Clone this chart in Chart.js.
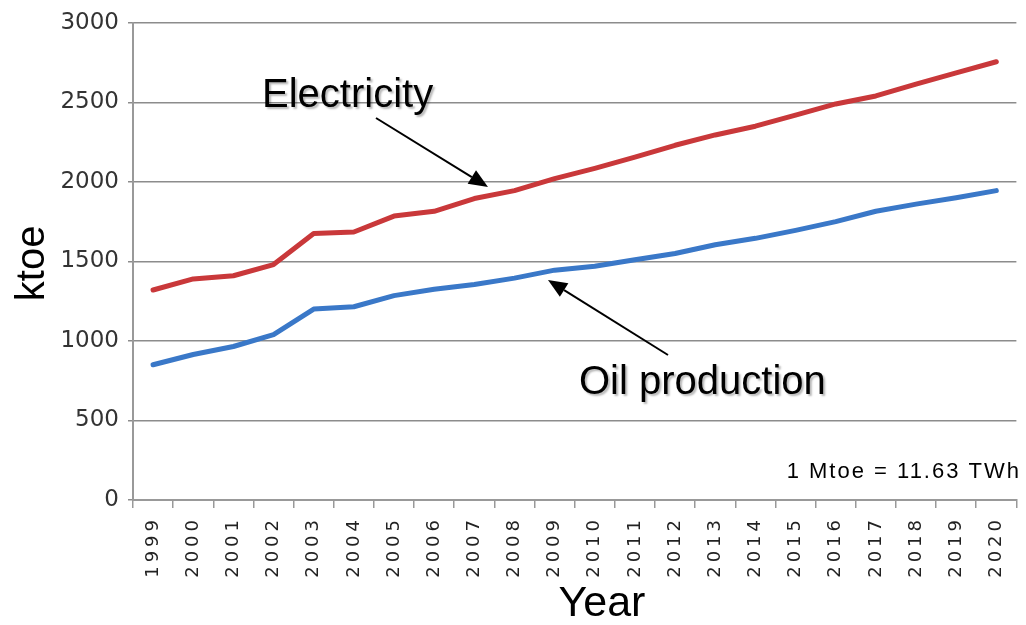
<!DOCTYPE html>
<html>
<head>
<meta charset="utf-8">
<script src="https://cdn.jsdelivr.net/npm/chart.js@4.4.1/dist/chart.umd.min.js"></script>
<style>
  html, body { margin: 0; padding: 0; background: #fff; overflow: hidden; }
  #wrap { width: 1026px; height: 625px; position: relative; }
</style>
</head>
<body>
<div id="wrap"><canvas id="c" width="1026" height="625"></canvas></div>
<script>
// Energy demand, thousand tonnes of oil equivalent
const years = ['1999','2000','2001','2002','2003','2004','2005','2006','2007','2008','2009',
               '2010','2011','2012','2013','2014','2015','2016','2017','2018','2019','2020'];
const electricity = [1320,1390,1410,1480,1675,1685,1785,1815,1895,1945,2020,
                     2085,2155,2230,2295,2350,2420,2490,2540,2615,2685,2755];
const oilProduction = [850,915,965,1040,1200,1215,1285,1325,1355,1395,1445,
                       1470,1510,1550,1605,1645,1695,1750,1815,1860,1900,1945];
const yTickValues = [0,500,1000,1500,2000,2500,3000];

const ANNOTATIONS = {
  electricity: { text: 'Electricity', x: 262, y: 107, from: [376, 118], to: [488, 187] },
  oil: { text: 'Oil production', x: 579, y: 394, from: [668, 355], to: [548, 280] },
  note: { text: '1 Mtoe = 11.63 TWh', x: 1019, y: 478 }
};

function arrow(ctx, from, to) {
  const [x1, y1] = from, [x2, y2] = to;
  const ang = Math.atan2(y2 - y1, x2 - x1);
  const len = 19, half = 8;
  const bx = x2 - len * Math.cos(ang), by = y2 - len * Math.sin(ang);
  ctx.beginPath();
  ctx.moveTo(x1, y1);
  ctx.lineTo(bx, by);
  ctx.lineWidth = 2;
  ctx.strokeStyle = '#000';
  ctx.stroke();
  ctx.beginPath();
  ctx.moveTo(x2, y2);
  ctx.lineTo(bx + half * Math.sin(ang), by - half * Math.cos(ang));
  ctx.lineTo(bx - half * Math.sin(ang), by + half * Math.cos(ang));
  ctx.closePath();
  ctx.fillStyle = '#000';
  ctx.fill();
}

// x tick labels are spaced out; they are drawn in a layer above the datasets
const spacingPlugin = {
  id: 'tickSpacing',
  afterDatasetsDraw(chart) { chart.ctx.letterSpacing = '4px'; },
  afterDraw(chart) { chart.ctx.letterSpacing = '0px'; }
};

const overlayPlugin = {
  id: 'overlay',
  afterDraw(chart) {
    const ctx = chart.ctx;
    ctx.save();
    ctx.letterSpacing = '0px';
    // axis titles
    ctx.fillStyle = '#000';
    ctx.font = '40px "Liberation Sans", Arial, sans-serif';
    ctx.textAlign = 'center';
    ctx.textBaseline = 'alphabetic';
    ctx.save();
    ctx.translate(44, (chart.chartArea.top + chart.chartArea.bottom) / 2 + 2);
    ctx.rotate(-Math.PI / 2);
    ctx.fillText('ktoe', 0, 0);
    ctx.restore();
    ctx.font = '43px "Liberation Sans", Arial, sans-serif';
    ctx.fillText('Year', 602, 616);

    // series annotations
    ctx.save();
    ctx.shadowColor = 'rgba(0,0,0,0.28)';
    ctx.shadowOffsetX = 2;
    ctx.shadowOffsetY = 2;
    ctx.shadowBlur = 2;
    ctx.font = '40px "Liberation Sans", Arial, sans-serif';
    ctx.textAlign = 'left';
    for (const a of [ANNOTATIONS.electricity, ANNOTATIONS.oil]) {
      ctx.fillText(a.text, a.x, a.y);
    }
    ctx.restore();
    arrow(ctx, ANNOTATIONS.electricity.from, ANNOTATIONS.electricity.to);
    arrow(ctx, ANNOTATIONS.oil.from, ANNOTATIONS.oil.to);

    // unit note
    ctx.letterSpacing = '2px';
    ctx.font = '22px "Liberation Sans", Arial, sans-serif';
    ctx.textAlign = 'right';
    ctx.fillStyle = '#000';
    ctx.fillText(ANNOTATIONS.note.text, ANNOTATIONS.note.x + 2, ANNOTATIONS.note.y);
    ctx.restore();
  }
};

new Chart(document.getElementById('c'), {
  type: 'line',
  data: {
    labels: years,
    datasets: [
      { label: 'Electricity', data: electricity, borderColor: '#c9383a', borderWidth: 5,
        pointRadius: 0, tension: 0, fill: false, borderCapStyle: 'round', borderJoinStyle: 'round' },
      { label: 'Oil production', data: oilProduction, borderColor: '#3a78c8', borderWidth: 5,
        pointRadius: 0, tension: 0, fill: false, borderCapStyle: 'round', borderJoinStyle: 'round' }
    ]
  },
  options: {
    responsive: false,
    animation: false,
    devicePixelRatio: 1,
    layout: { padding: { top: 19, right: 4, left: 0, bottom: 0 } },
    plugins: { legend: { display: false }, tooltip: { enabled: false } },
    scales: {
      x: {
        type: 'category',
        offset: true,
        grid: { display: true, drawOnChartArea: false, drawTicks: true, tickLength: 8,
                color: '#999', lineWidth: 1.5, offset: true },
        border: { display: true, color: '#999', width: 2 },
        ticks: { autoSkip: false, minRotation: 90, maxRotation: 90, padding: 8, z: 1,
                 color: '#222', font: { family: '"DejaVu Sans", sans-serif', size: 18 } },
        afterFit(scale) { scale.height = 125; }
      },
      y: {
        min: 0, max: 3000,
        afterBuildTicks(scale) { scale.ticks = yTickValues.map(v => ({ value: v })); },
        grid: { color: '#8c8c8c', lineWidth: 1.5, drawTicks: true, tickLength: 5 },
        border: { display: true, color: '#999', width: 2 },
        ticks: { padding: 9, color: '#333', font: { family: '"DejaVu Sans", sans-serif', size: 23 },
                 callback: v => String(v) },
        afterFit(scale) { scale.width = 133; }
      }
    }
  },
  plugins: [spacingPlugin, overlayPlugin]
});
</script>
</body>
</html>
